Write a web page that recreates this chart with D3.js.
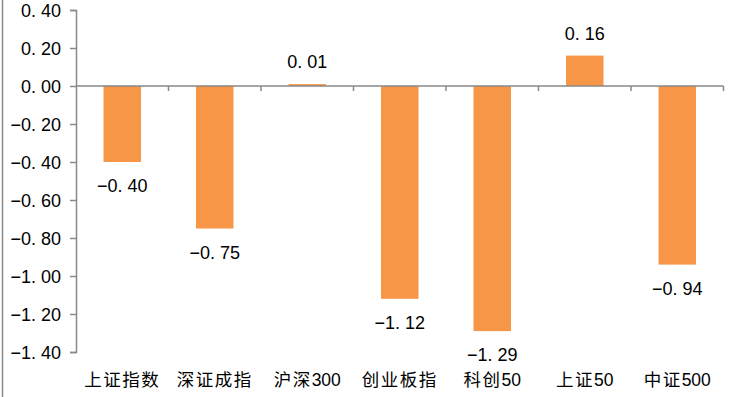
<!DOCTYPE html>
<html><head><meta charset="utf-8">
<script src="https://cdn.jsdelivr.net/npm/d3@7"></script>
<style>body{margin:0;background:#fff}svg{display:block}</style>
</head><body>
<script>
const categories = ["上证指数","深证成指","沪深300","创业板指","科创50","上证50","中证500"];
const values = [-0.40,-0.75,0.01,-1.12,-1.29,0.16,-0.94];
const yTicks = [0.40,0.20,0.00,-0.20,-0.40,-0.60,-0.80,-1.00,-1.20,-1.40];

const W = 733, H = 397;
const svg = d3.select("body").append("svg").attr("width",W).attr("height",H);
const axisColor = "#898989";
const numFont = "Liberation Sans, Arial, sans-serif";

svg.append("line").attr("x1",2.5).attr("x2",2.5).attr("y1",0).attr("y2",H)
  .attr("stroke",axisColor).attr("stroke-width",1.5);

const x = d3.scaleBand().domain(categories).range([76,723.5]).padding(0);
const y = d3.scaleLinear().domain([-1.4,0.4]).range([352,10]);

function fmtParts(d){
  const s = (d<0?"\u2212":"")+Math.abs(d).toFixed(2);
  const k = s.indexOf(".")+1;
  return [s.slice(0,k), s.slice(k)];
}
function writeNum(sel){
  sel.each(function(d){
    const t = d3.select(this); t.text(null);
    const p = fmtParts(d);
    t.append("tspan").text(p[0]);
    t.append("tspan").attr("dx",5).text(p[1]);
  });
}

// bars
const bw = x.bandwidth()*0.405;
svg.selectAll("rect.bar").data(values).join("rect")
  .attr("x",(d,i)=>x(categories[i])+x.bandwidth()/2-bw/2)
  .attr("y",d=>y(Math.max(0,d)))
  .attr("width",bw)
  .attr("height",d=>Math.abs(y(d)-y(0)))
  .attr("fill","#F79646");

// y axis
const yAxis = d3.axisLeft(y).tickValues(yTicks).tickSize(6).tickPadding(9);
const gy = svg.append("g").attr("transform","translate(76,0)").call(yAxis);
gy.select(".domain").attr("stroke",axisColor).attr("stroke-width",1.5);
gy.selectAll(".tick line").attr("stroke",axisColor).attr("stroke-width",1.5);
gy.selectAll(".tick text").attr("font-family",numFont)
  .attr("font-size",18).attr("fill","#000").attr("dy","0.36em").call(writeNum);

// x axis at zero
const gx = svg.append("g").attr("transform",`translate(0,${y(0)})`);
gx.append("path").attr("fill","none").attr("stroke",axisColor).attr("stroke-width",1.5)
  .attr("d",`M${x.range()[0]},0H${x.range()[1]}`);
const bounds = categories.map(c=>x(c)).concat([x.range()[1]]);
gx.selectAll("line.cb").data(bounds.slice(1)).join("line")
  .attr("x1",d=>d).attr("x2",d=>d).attr("y1",0).attr("y2",5)
  .attr("stroke",axisColor).attr("stroke-width",1.5);

// category labels: CJK chars spaced, digits plain
svg.selectAll("text.cat").data(categories).join("text")
  .attr("x",d=>x(d)+x.bandwidth()/2).attr("y",386)
  .attr("text-anchor","middle").attr("font-family",numFont+", Noto Sans CJK SC")
  .attr("font-size",17.5).attr("fill","#000")
  .each(function(d){
    const t = d3.select(this);
    const m = d.match(/^([^0-9]*)([0-9]*)$/);
    t.append("tspan").attr("letter-spacing",1.5).text(m[1]);
    if (m[2]) t.append("tspan").text(m[2]);
  });

// value labels
svg.selectAll("text.val").data(values).join("text")
  .attr("x",(d,i)=>x(categories[i])+x.bandwidth()/2)
  .attr("y",d=>d>=0? y(d)-16 : y(d)+30)
  .attr("text-anchor","middle").attr("font-family",numFont)
  .attr("font-size",18).attr("fill","#000")
  .call(writeNum);
</script>
</body></html>
